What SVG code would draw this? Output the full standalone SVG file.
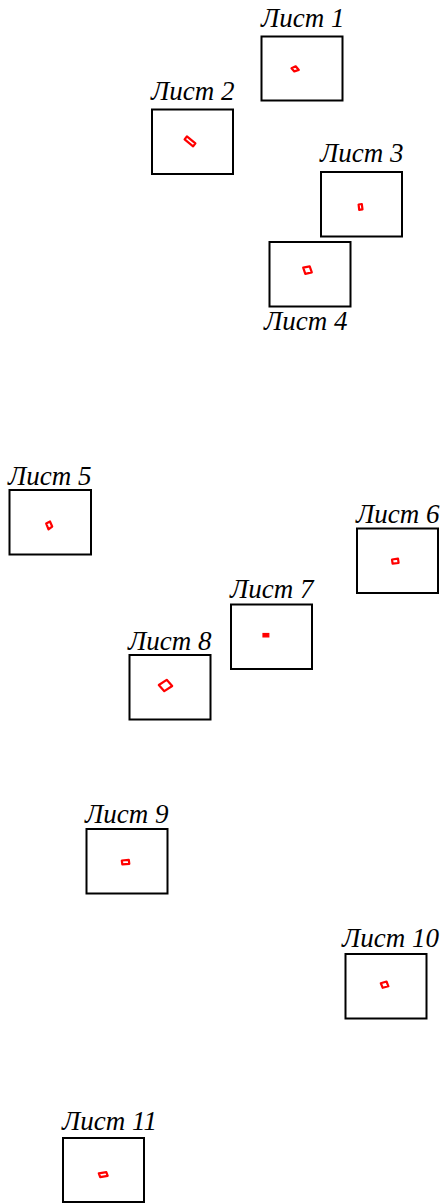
<svg xmlns="http://www.w3.org/2000/svg" width="447" height="1203" viewBox="0 0 447 1203">
<style>
.sheet{fill:#fff;stroke:#000;stroke-width:2}
.lbl{font-family:"Liberation Serif",serif;font-style:italic;font-size:27px;fill:#000}
.mk{fill:none;stroke:#f00;stroke-width:2.2;stroke-linejoin:round}
.mkf{fill:#f00;stroke:#f00;stroke-width:1.2}
</style>
<rect width="447" height="1203" fill="#fff"/>
<g id="connectors"></g>
<g id="sheet1"><rect class="sheet" x="261.5" y="36.5" width="81" height="64"/><text class="lbl" x="261" y="27">Лист 1</text><polygon class="mk" points="291.5,68.3 295.7,66.3 298.8,70 294.3,71.4"/></g>
<g id="sheet2"><rect class="sheet" x="152" y="109.5" width="81" height="64.5"/><text class="lbl" x="151" y="100">Лист 2</text><polygon class="mk" points="184.6,139.3 186.9,136.3 195.4,143.3 193.1,146.3"/></g>
<g id="sheet3"><rect class="sheet" x="321" y="172" width="81" height="64.5"/><text class="lbl" x="320" y="162">Лист 3</text><polygon class="mk" points="358.6,204.5 361.8,204 362.5,209.4 359.2,209.8"/></g>
<g id="sheet4"><rect class="sheet" x="269.5" y="242" width="81" height="64.5"/><text class="lbl" x="264" y="330">Лист 4</text><polygon class="mk" points="303.2,267.6 309.7,266.4 311.8,272.4 305.3,273.8"/></g>
<g id="sheet5"><rect class="sheet" x="9.5" y="490" width="81.5" height="64.5"/><text class="lbl" x="8" y="485">Лист 5</text><polygon class="mk" points="46.2,523.5 50,521.5 52.2,526.5 48.5,529.3"/></g>
<g id="sheet6"><rect class="sheet" x="357" y="528.5" width="81" height="64.5"/><text class="lbl" x="356" y="523">Лист 6</text><polygon class="mk" points="392,559.5 398,558.7 398.6,563 392.6,563.6"/></g>
<g id="sheet7"><rect class="sheet" x="231" y="604.5" width="81" height="64.5"/><text class="lbl" x="230" y="598">Лист 7</text><rect class="mkf" x="263" y="633.5" width="5.8" height="3.4"/></g>
<g id="sheet8"><rect class="sheet" x="129.5" y="655" width="81" height="64.5"/><text class="lbl" x="128" y="650">Лист 8</text><polygon class="mk" points="158.8,685 166.7,679.8 172.2,686 164.3,691.2"/></g>
<g id="sheet9"><rect class="sheet" x="86.5" y="829" width="81" height="64.5"/><text class="lbl" x="85" y="823">Лист 9</text><polygon class="mk" points="121.8,860.5 128.8,859.8 129.3,863.8 122.3,864.4"/></g>
<g id="sheet10"><rect class="sheet" x="345.5" y="954" width="81" height="64.5"/><text class="lbl" x="342" y="947">Лист 10</text><polygon class="mk" points="380.8,983.3 386.5,981.5 388.4,986.3 382.7,987.8"/></g>
<g id="sheet11"><rect class="sheet" x="63" y="1138" width="81" height="64"/><text class="lbl" x="62" y="1130">Лист 11</text><polygon class="mk" points="98.8,1173.4 106.3,1172.2 107.7,1175.8 100.2,1177.2"/></g>
</svg>
